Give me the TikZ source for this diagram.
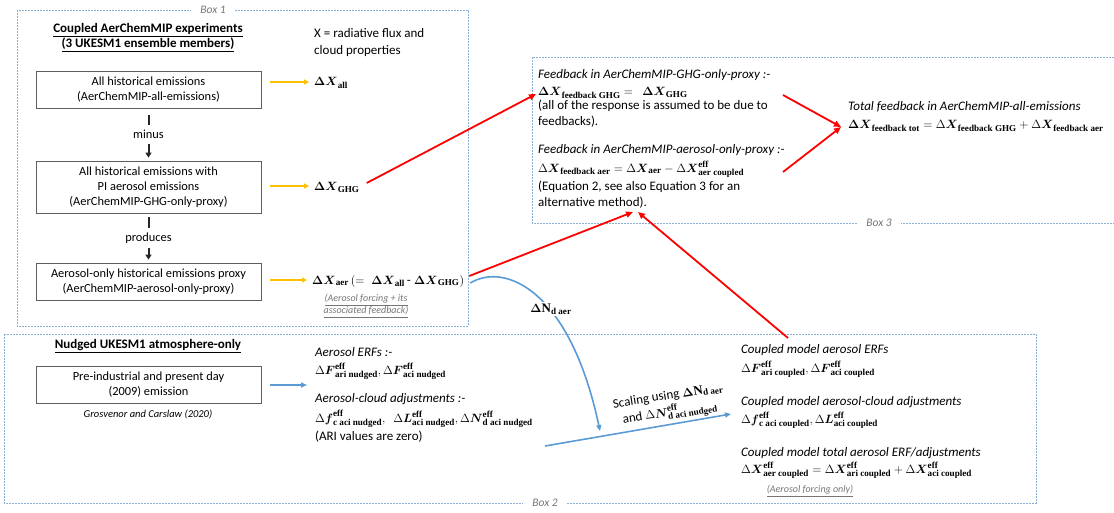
\documentclass[tikz,border=0pt]{standalone}
\usepackage{amsmath}
\usepackage[no-math]{fontspec}
\setmainfont{Carlito}
\newfontfamily\subserif{Liberation Serif}
\usetikzlibrary{arrows.meta,calc}
\definecolor{frameblue}{RGB}{140,175,212}
\definecolor{arrorange}{RGB}{255,192,0}
\definecolor{arrred}{RGB}{255,0,0}
\definecolor{arrblue}{RGB}{91,155,213}
\definecolor{notegray}{RGB}{118,118,118}
\definecolor{boxgray}{RGB}{95,95,95}
\newcommand{\bDX}{\boldsymbol{\Delta X}}
\newcommand{\mb}[1]{\text{\subserif\bfseries\upshape #1}}
\begin{document}
\begin{tikzpicture}[x=1pt,y=-1pt,
  every node/.style={font=\fontsize{13}{16}\selectfont, inner sep=1pt},
  boxframe/.style={draw=frameblue, line width=0.9pt, dash pattern=on 1.6pt off 1.4pt},
  framelabel/.style={fill=white, text=notegray, font=\fontsize{11.5}{13}\selectfont\itshape, inner xsep=9pt, inner ysep=1pt},
  procbox/.style={draw=boxgray, line width=0.8pt, align=center, minimum width=225pt, inner sep=0pt, font=\fontsize{12.4}{15}\selectfont},
  heading/.style={font=\fontsize{13}{15}\selectfont\bfseries, align=center},
  txt/.style={anchor=west, align=left, font=\fontsize{13}{16}\selectfont},
  ital/.style={anchor=west, font=\fontsize{13}{15}\selectfont\itshape},
  smallnote/.style={text=notegray, font=\fontsize{10}{12}\selectfont\itshape, align=center},
  mathnode/.style={anchor=west, font=\fontsize{13}{15}\selectfont},
  orgarrow/.style={draw=arrorange, line width=1.4pt, -{Triangle[length=5pt,width=5pt]}},
  redarrow/.style={draw=arrred, line width=1.8pt, -{Triangle[length=7pt,width=6pt]}},
  bluearrow/.style={draw=arrblue, line width=1.6pt, -{Triangle[length=6pt,width=5pt]}},
  blkarrow/.style={draw=black!85, line width=2pt, -{Triangle[length=5pt,width=6pt]}},
  scaltext/.style={rotate=9, font=\fontsize{13}{16}\selectfont, inner sep=0pt},
]
\useasboundingbox (0,0) rectangle (1114,512);

% ---------- frames ----------
\draw[boxframe] (17,10) rectangle (468,326);
\node[framelabel] (b1) at (213,10) {Box 1};
\draw[boxframe] (4,334) rectangle (1036,503);
\node[framelabel] (b2) at (545,503) {Box 2};
\draw[boxframe] (1114,57) -- (532,57) -- (532,223) -- (1114,223);
\node[framelabel] (b3) at (879,223) {Box 3};

% ---------- Box 1 ----------
\node[heading] (t1) at (148,38) {\underline{Coupled AerChemMIP experiments}\\\underline{(3 UKESM1 ensemble members)}};
\node[txt, font=\fontsize{13}{17}\selectfont] (xdef) at (313,43) {X = radiative flux and\\cloud properties};

\node[procbox, minimum height=37pt] (A) at (148.5,89.5) {All historical emissions\\(AerChemMIP-all-emissions)};
\node[procbox, minimum height=52pt] (B) at (148.5,187) {All historical emissions with\\PI aerosol emissions\\(AerChemMIP-GHG-only-proxy)};
\node[procbox, minimum height=37pt] (C) at (148.5,281.5) {Aerosol-only historical emissions proxy\\(AerChemMIP-aerosol-only-proxy)};

\draw[blkarrow, shorten <=7pt, shorten >=3pt] (A) -- node[fill=white, inner ysep=5pt, font=\fontsize{12.4}{15}\selectfont] (mlab) {minus} (B);
\draw[blkarrow, shorten <=4pt, shorten >=3pt] (B) -- node[fill=white, inner ysep=5pt, font=\fontsize{12.4}{15}\selectfont] (plab) {produces} (C);

\node[mathnode] (dxall) at (313,83) {$\bDX_{\mb{all}}$};
\node[mathnode] (dxghg) at (313,187) {$\bDX_{\mb{GHG}}$};
\node[mathnode] (dxaer) at (311,281) {$\bDX_{\mb{aer}}\,(=\;\bDX_{\mb{all}}\,\text{-}\;\bDX_{\mb{GHG}})$};
\node[smallnote] (aernote) at (366,306) {\underline{(Aerosol forcing + its}\\\underline{associated feedback)}};

\draw[orgarrow] ($(A.east |- dxall.west)+(9,-1)$) -- ($(dxall.west)+(-4,-1)$);
\draw[orgarrow] ($(B.east |- dxghg.west)+(9,-1)$) -- ($(dxghg.west)+(-4,-1)$);
\draw[orgarrow] ($(C.east |- dxaer.west)+(9,-1)$) -- ($(dxaer.west)+(-4,-1)$);

% ---------- Box 3 ----------
\node[ital] (h1) at (537,75) {Feedback in AerChemMIP-GHG-only-proxy :-};
\node[mathnode] (fbghg) at (537,93) {$\bDX_{\mb{feedback GHG}} =\ \ \bDX_{\mb{GHG}}$};
\node[txt] (r1) at (537,114) {(all of the response is assumed to be due to\\feedbacks).};
\node[ital] (h2) at (537,150) {Feedback in AerChemMIP-aerosol-only-proxy :-};
\node[mathnode] (fbaer) at (537,169) {$\Delta\boldsymbol{X}_{\mb{feedback aer}} = \Delta\boldsymbol{X}_{\mb{aer}} - \Delta\boldsymbol{X}^{\mb{eff}}_{\mb{aer coupled}}$};
\node[txt] (r2) at (537,195) {(Equation 2, see also Equation 3 for an\\alternative method).};

\node[ital] (h3) at (847,107) {Total feedback in AerChemMIP-all-emissions};
\node[mathnode] (fbtot) at (847,126) {$\bDX_{\mb{feedback tot}} = \Delta\boldsymbol{X}_{\mb{feedback GHG}} + \Delta\boldsymbol{X}_{\mb{feedback aer}}$};

\coordinate (rs1) at (783,95);
\coordinate (rs2) at (783,172);
\coordinate (ftin) at (841,127);
\coordinate (m1) at (633,212);
\coordinate (m2) at (638,212);
\coordinate (cs) at (788,338);

\draw[redarrow] ($(dxghg.east)+(6,-4)$) -- ($(fbghg.west)+(-1,1)$);
\draw[redarrow] (rs1) -- (ftin);
\draw[redarrow] (rs2) -- (ftin);
\draw[redarrow] ($(dxaer.east)+(4,-5)$) -- (m1);
\draw[redarrow] (cs) -- (m2);

% ---------- Box 2 ----------
\node[heading] (t2) at (148,346) {\underline{Nudged UKESM1 atmosphere-only}};
\node[procbox, minimum height=37pt] (D) at (148.5,385) {Pre-industrial and present day\\(2009) emission};
\node[font=\fontsize{10.5}{12}\selectfont\itshape] (gc) at (148,414) {Grosvenor and Carslaw (2020)};

\node[ital] (h4) at (314,352) {Aerosol ERFs :-};
\node[mathnode] (erfn) at (314,371) {$\Delta\boldsymbol{F}^{\mb{eff}}_{\mb{ari nudged}}, \Delta\boldsymbol{F}^{\mb{eff}}_{\mb{aci nudged}}$};
\node[ital] (h5) at (314,399) {Aerosol-cloud adjustments :-};
\node[mathnode] (adjn) at (314,419) {$\Delta\boldsymbol{f}^{\mb{eff}}_{\mb{c aci nudged}},\ \ \Delta\boldsymbol{L}^{\mb{eff}}_{\mb{aci nudged}}, \Delta\boldsymbol{N}^{\mb{eff}}_{\mb{d aci nudged}}$};
\node[txt] (ari) at (314,437) {(ARI values are zero)};

\draw[bluearrow] ($(D.east)+(9,0)$) -- ($(h4.west |- D.east)+(-7,0)$);

\node[ital] (h6) at (740,350) {Coupled model aerosol ERFs};
\node[mathnode] (erfc) at (740,369) {$\Delta\boldsymbol{F}^{\mb{eff}}_{\mb{ari coupled}}, \Delta\boldsymbol{F}^{\mb{eff}}_{\mb{aci coupled}}$};
\node[ital] (h7) at (740,402) {Coupled model aerosol-cloud adjustments};
\node[mathnode] (adjc) at (740,420) {$\Delta\boldsymbol{f}^{\mb{eff}}_{\mb{c aci coupled}}, \Delta\boldsymbol{L}^{\mb{eff}}_{\mb{aci coupled}}$};
\node[ital] (h8) at (740,453) {Coupled model total aerosol ERF/adjustments};
\node[mathnode] (totc) at (740,470) {$\Delta\boldsymbol{X}^{\mb{eff}}_{\mb{aer coupled}} = \Delta\boldsymbol{X}^{\mb{eff}}_{\mb{ari coupled}} + \Delta\boldsymbol{X}^{\mb{eff}}_{\mb{aci coupled}}$};
\node[smallnote] (afo) at (810,491) {\underline{(Aerosol forcing only)}};

% blue connectors
\coordinate (ls) at (545,446);
\coordinate (lt) at (731,414);
\coordinate (tipc) at (600,431);
\draw[bluearrow] ($(dxaer.east)+(5,2)$) .. controls (505,262) and (570,290) .. (tipc);
\node[fill=white, inner sep=2pt] (dnd) at (551,309) {$\boldsymbol{\Delta}\mb{N}_{\mb{d aer}}$};
\draw[bluearrow] (ls) -- (lt);
\node[scaltext] (scal1) at (668,396) {Scaling using $\boldsymbol{\Delta}\mb{N}_{\mb{d aer}}$};
\node[scaltext] (scal2) at (670,413) {and $\Delta\boldsymbol{N}^{\mb{eff}}_{\mb{d aci nudged}}$};

\end{tikzpicture}
\end{document}
